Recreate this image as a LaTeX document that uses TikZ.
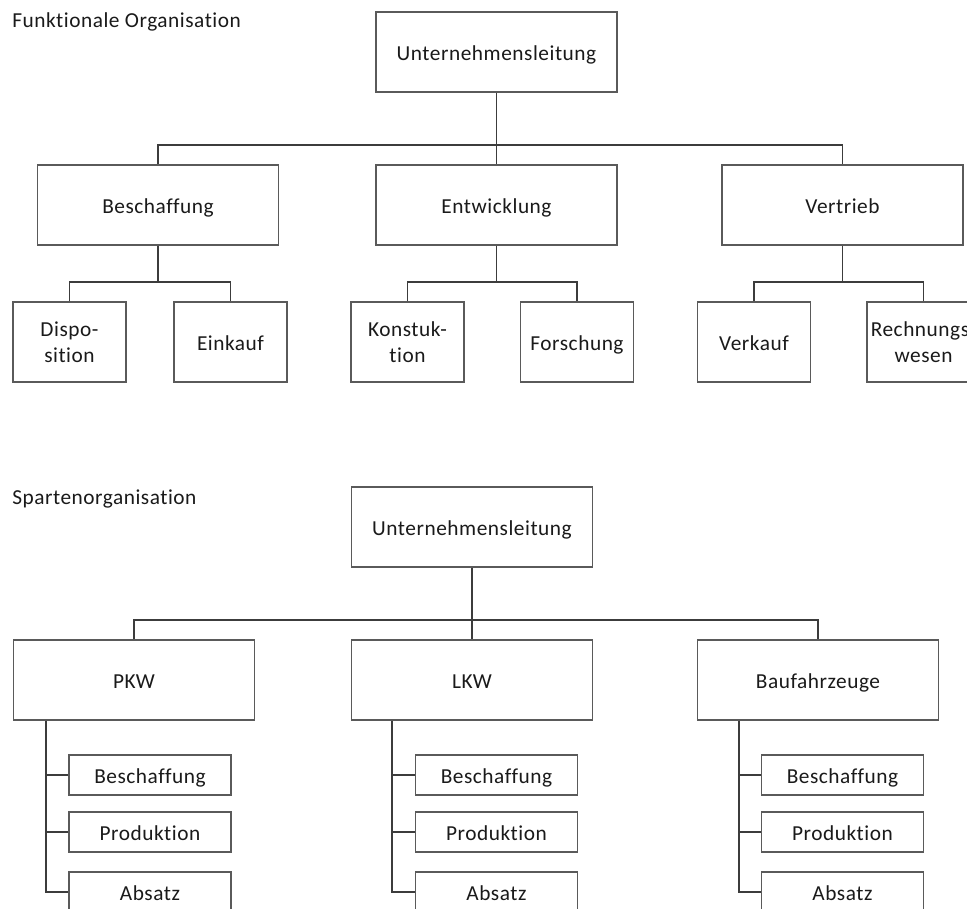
\documentclass[tikz,border=0pt]{standalone}
\usepackage{fontspec}
\setmainfont{Carlito}[LetterSpace=2.5,RawFeature={-liga;-dlig;-clig}]
\usetikzlibrary{calc}
\definecolor{boxline}{HTML}{5A5A5A}
\definecolor{linkline}{HTML}{3C3C3C}
\definecolor{labeltext}{HTML}{1A1A1A}
\begin{document}
\begin{tikzpicture}[x=0.75pt,y=-0.75pt,
  unit/.style={draw=boxline,line width=0.8pt,fill=white,inner sep=0pt,
    align=center,text=labeltext,font=\fontsize{16}{19.5}\selectfont},
  oneline/.style={text height=16pt,text depth=4pt},
  bigbox/.style={unit,oneline,minimum width=241*0.75pt,minimum height=80*0.75pt},
  smallbox/.style={unit,minimum width=113*0.75pt,minimum height=80*0.75pt},
  subbox/.style={unit,oneline,minimum width=162*0.75pt,minimum height=40*0.75pt},
  link/.style={draw=linkline,line width=1.2pt},
  heading/.style={anchor=base west,inner sep=0pt,text=labeltext,
    font=\fontsize{16}{19}\selectfont}]
\fill[white] (0,0) rectangle (967,908);
\clip (0,0) rectangle (967,908);

% ---------- Funktionale Organisation ----------
\node[heading] (t1) at (12,27) {Funktionale Organisation};
\node[bigbox] (ul1) at (496.5,52) {Unternehmensleitung};

\node[bigbox] (besch) at (158,205) {Beschaffung};
\node[bigbox] (entw)  at (496.5,205) {Entwicklung};
\node[bigbox] (vert)  at (842.5,205) {Vertrieb};

\node[smallbox] (dispo)  at (69.5,342)  {Dispo-\\sition};
\node[smallbox,oneline] (eink)   at (230.5,342) {Einkauf};
\node[smallbox] (konst)  at (407.5,342) {Konstuk-\\tion};
\node[smallbox,oneline] (forsch) at (577,342)   {Forschung};
\node[smallbox,oneline] (verk)   at (754,342)   {Verkauf};
\node[smallbox] (rech)   at (923.5,342) {Rechnungs-\\wesen};

\coordinate (bar1) at (0,145);
\coordinate (bar2) at (0,282);
\draw[link] (ul1.south) -- (ul1.south |- bar1);
\draw[link] (besch.north) -- (besch.north |- bar1) -- (vert.north |- bar1) -- (vert.north);
\draw[link,line width=0.8pt] (entw.north |- bar1) -- (entw.north);

\draw[link] (besch.south) -- (besch.south |- bar2);
\draw[link] (dispo.north) -- (dispo.north |- bar2) -- (eink.north |- bar2) -- (eink.north);
\draw[link] (entw.south) -- (entw.south |- bar2);
\draw[link] (konst.north) -- (konst.north |- bar2) -- (forsch.north |- bar2) -- (forsch.north);
\draw[link] (vert.south) -- (vert.south |- bar2);
\draw[link] (verk.north) -- (verk.north |- bar2) -- (rech.north |- bar2) -- (rech.north);

% ---------- Spartenorganisation ----------
\node[heading] (t2) at (12,504) {Spartenorganisation};
\node[bigbox] (ul2) at (472,527) {Unternehmensleitung};

\node[bigbox] (pkw) at (134,680) {PKW};
\node[bigbox] (lkw) at (472,680) {LKW};
\node[bigbox] (bau) at (818,680) {Baufahrzeuge};

\coordinate (bar3) at (0,620);
\draw[link] (ul2.south) -- (ul2.south |- bar3);
\draw[link] (pkw.north) -- (pkw.north |- bar3) -- (bau.north |- bar3) -- (bau.north);
\draw[link,line width=0.8pt] (lkw.north |- bar3) -- (lkw.north);

% PKW
\node[subbox] (pbes) at (150,775) {Beschaffung};
\node[subbox] (ppro) at (150,832) {Produktion};
\node[subbox] (pabs) at (150,892) {Absatz};
\coordinate (ptrunk) at ($(pkw.south west)+(33,0)$);
\draw[link] (ptrunk) |- (pabs.west);
\draw[link] (pbes.west) -- (pbes.west -| ptrunk);
\draw[link] (ppro.west) -- (ppro.west -| ptrunk);

% LKW
\node[subbox] (lbes) at (496.5,775) {Beschaffung};
\node[subbox] (lpro) at (496.5,832) {Produktion};
\node[subbox] (labs) at (496.5,892) {Absatz};
\coordinate (ltrunk) at ($(lkw.south west)+(41,0)$);
\draw[link] (ltrunk) |- (labs.west);
\draw[link] (lbes.west) -- (lbes.west -| ltrunk);
\draw[link] (lpro.west) -- (lpro.west -| ltrunk);

% Baufahrzeuge
\node[subbox] (bbes) at (842.5,775) {Beschaffung};
\node[subbox] (bpro) at (842.5,832) {Produktion};
\node[subbox] (babs) at (842.5,892) {Absatz};
\coordinate (btrunk) at ($(bau.south west)+(42,0)$);
\draw[link] (btrunk) |- (babs.west);
\draw[link] (bbes.west) -- (bbes.west -| btrunk);
\draw[link] (bpro.west) -- (bpro.west -| btrunk);
\end{tikzpicture}
\end{document}
